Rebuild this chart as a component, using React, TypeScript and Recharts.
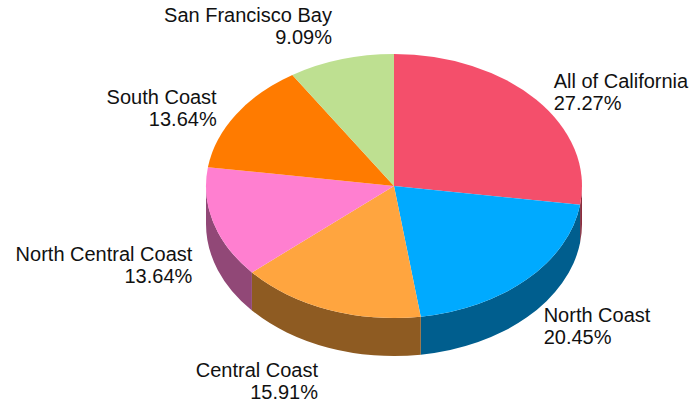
import React from 'react';
import { PieChart, Pie, Cell } from 'recharts';

const categories = ['All of California', 'North Coast', 'Central Coast', 'North Central Coast', 'South Coast', 'San Francisco Bay'];
const values = [12, 9, 7, 6, 6, 4];
const topColors = ['#F44F6B', '#00AAFF', '#FFA53F', '#FF7FD0', '#FF7B00', '#BEE091'];
const sideColors = ['#8C2D3D', '#005E8E', '#8E5B22', '#914877', '#8E4400', '#6A7D50'];

const data = categories.map((name, i) => ({ name, value: values[i], idx: i }));
const total = values.reduce((a, b) => a + b, 0);

const CX = 394;
const CY = 186;
const RX = 188;
const TILT = 132 / 188;
const DEPTH = 38;
const FONT = '"Liberation Sans", Arial, sans-serif';

const RAD = Math.PI / 180;
const pt = (cx: number, cy: number, r: number, a: number, dy = 0) => {
  const ry = r * TILT;
  return [cx + r * Math.cos(a * RAD), cy - ry * Math.sin(a * RAD) + dy];
};

const renderSector = (props: any) => {
  const { cx, cy, outerRadius, startAngle, endAngle, payload } = props;
  const idx = payload && payload.idx !== undefined ? payload.idx : props.index;
  const r = outerRadius;
  const ry = r * TILT;
  const a1 = Math.max(startAngle, endAngle);
  const a2 = Math.min(startAngle, endAngle);
  const [x1, y1] = pt(cx, cy, r, a1);
  const [x2, y2] = pt(cx, cy, r, a2);
  const large = a1 - a2 > 180 ? 1 : 0;
  const top = `M${cx},${cy} L${x1},${y1} A${r},${ry} 0 ${large} 1 ${x2},${y2} Z`;
  const lo = Math.max(a2, -180);
  const hi = Math.min(a1, 0);
  let side: string | null = null;
  if (lo < hi) {
    const [hx, hy] = pt(cx, cy, r, hi);
    const [lx, ly] = pt(cx, cy, r, lo);
    side = `M${hx},${hy} A${r},${ry} 0 0 1 ${lx},${ly} L${lx},${ly + DEPTH} A${r},${ry} 0 0 0 ${hx},${hy + DEPTH} Z`;
  }
  return (
    <g>
      {side && <path d={side} fill={sideColors[idx]} stroke="none" />}
      <path d={top} fill={topColors[idx]} stroke="none" />
    </g>
  );
};

const renderLabel = (props: any) => {
  const { cx, cy, outerRadius, midAngle, payload } = props;
  const idx = payload && payload.idx !== undefined ? payload.idx : props.index;
  const s = Math.sin(midAngle * RAD);
  const c = Math.cos(midAngle * RAD);
  const ry = outerRadius * TILT;
  const front = s < 0;
  const x = cx + (outerRadius + 18) * c + (c >= 0 ? 4 : -4);
  const push = Math.min(1, Math.max(0, (Math.abs(s) - 0.72) / 0.2)) * 22;
  const centerY = cy - (ry + 12) * s + (front ? DEPTH : 0) - push * Math.sign(s);
  const anchor = c >= 0 ? 'start' : 'end';
  const cap = 14.3;
  const lh = 22;
  const b1 = centerY - (lh + cap) / 2 + cap;
  const pct = ((values[idx] / total) * 100).toFixed(2) + '%';
  return (
    <text x={x} y={b1} textAnchor={anchor} fontFamily={FONT} fontSize={20} fill="#111">
      <tspan x={x} y={b1}>{categories[idx]}</tspan>
      <tspan x={x} y={b1 + lh}>{pct}</tspan>
    </text>
  );
};

export default function App() {
  return (
    <div style={{ position: 'absolute', left: 0, top: 0, width: 692, height: 411, background: '#fff' }}>
      <PieChart width={692} height={411} margin={{ top: 0, right: 0, bottom: 0, left: 0 }}>
        <Pie
          data={data}
          dataKey="value"
          nameKey="name"
          cx={CX}
          cy={CY}
          outerRadius={RX}
          startAngle={90}
          endAngle={-270}
          stroke="none"
          shape={renderSector}
          label={renderLabel}
          labelLine={false}
          isAnimationActive={false}
        >
          {data.map((d, i) => (
            <Cell key={d.name} fill={topColors[i]} />
          ))}
        </Pie>
      </PieChart>
    </div>
  );
}
